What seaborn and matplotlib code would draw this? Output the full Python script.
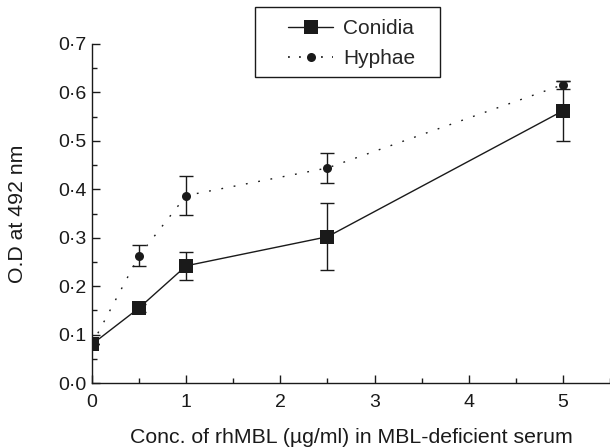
import pandas as pd
import numpy as np
import seaborn as sns
import matplotlib.pyplot as plt
from matplotlib.lines import Line2D
from matplotlib.patches import Rectangle
from matplotlib.ticker import FuncFormatter, MultipleLocator

conc = [0, 0.5, 1, 2.5, 5]
conidia = [0.08, 0.155, 0.242, 0.302, 0.562]
conidia_err = [0.0, 0.008, 0.029, 0.069, 0.062]
hyphae = [0.08, 0.263, 0.387, 0.444, 0.616]
hyphae_err = [0.0, 0.021, 0.04, 0.03, 0.008]

df = pd.DataFrame({
    'conc': conc * 2,
    'od': conidia + hyphae,
    'group': ['Conidia'] * 5 + ['Hyphae'] * 5,
})

sns.set_style('ticks')
plt.rcParams['font.family'] = ['Liberation Sans', 'DejaVu Sans']
ink = '#1a1a1a'
fs = 14
W, H = 610, 447

fig = plt.figure(figsize=(6.1, 4.47), dpi=100)
ax = fig.add_axes([92 / W, 1 - 383 / H, (W - 92) / W, (383 - 44) / H])

dots = (1.3, 7.7)
sns.lineplot(data=df, x='conc', y='od', hue='group', style='group',
             palette=[ink, ink], markers=['s', 'o'],
             dashes=[(None, None), dots], linewidth=1.0,
             ax=ax, legend=False, zorder=3)
for line, ms in zip(ax.lines, [9.5, 6.5]):
    line.set_markersize(ms)
    line.set_markeredgewidth(0)

ax.errorbar(conc, conidia, yerr=conidia_err, fmt='none', ecolor=ink,
            elinewidth=1.0, capsize=5, capthick=1.0)
ax.errorbar(conc, hyphae, yerr=hyphae_err, fmt='none', ecolor=ink,
            elinewidth=1.0, capsize=5, capthick=1.0)

ax.set_xlim(0, 5.5)
ax.set_ylim(0, 0.7)
ax.xaxis.set_major_locator(MultipleLocator(1))
ax.xaxis.set_minor_locator(MultipleLocator(0.5))
ax.yaxis.set_major_locator(MultipleLocator(0.1))
ax.yaxis.set_minor_locator(MultipleLocator(0.05))
ax.yaxis.set_major_formatter(FuncFormatter(lambda v, p: f"{v:.1f}".replace('.', '·')))
ax.tick_params(which='both', direction='in', color=ink, width=1.0,
               labelsize=fs, labelcolor=ink)
ax.tick_params(axis='y', pad=4)
ax.tick_params(axis='x', pad=8)
ax.tick_params(which='major', length=5.8)
ax.tick_params(which='minor', length=3.6)
for s in ['top', 'right']:
    ax.spines[s].set_visible(False)
for s in ['left', 'bottom']:
    ax.spines[s].set_color(ink)
    ax.spines[s].set_linewidth(1.0)

ax.set_xlabel('Conc. of rhMBL (µg/ml) in MBL-deficient serum', fontsize=15.3,
              color=ink, labelpad=12)
ax.set_ylabel('O.D at 492 nm', fontsize=15.3, color=ink)
ax.yaxis.set_label_coords(-(92 - 27) / (W - 92), 0.5)

# legend frame drawn separately so the inner padding can match
fig.patches.append(Rectangle((255 / W, 1 - 77 / H), 185 / W, 70 / H,
                             transform=fig.transFigure, fill=False,
                             edgecolor=ink, linewidth=1.0))
handles = [
    Line2D([], [], color=ink, lw=1.0, marker='s', ms=9.5, mew=0),
    Line2D([], [], color=ink, lw=1.2, ls=(0, (1.1, 5.5)), marker='o', ms=6.5, mew=0),
]
leg = fig.legend(handles, ['Conidia', 'Hyphae'], loc='upper left',
                 bbox_to_anchor=(288 / W, 1 - 19 / H), fontsize=15,
                 frameon=False, handlelength=2.16, borderpad=0,
                 borderaxespad=0, labelspacing=0.55, handletextpad=0.48)

plt.savefig('out.png', dpi=100)
